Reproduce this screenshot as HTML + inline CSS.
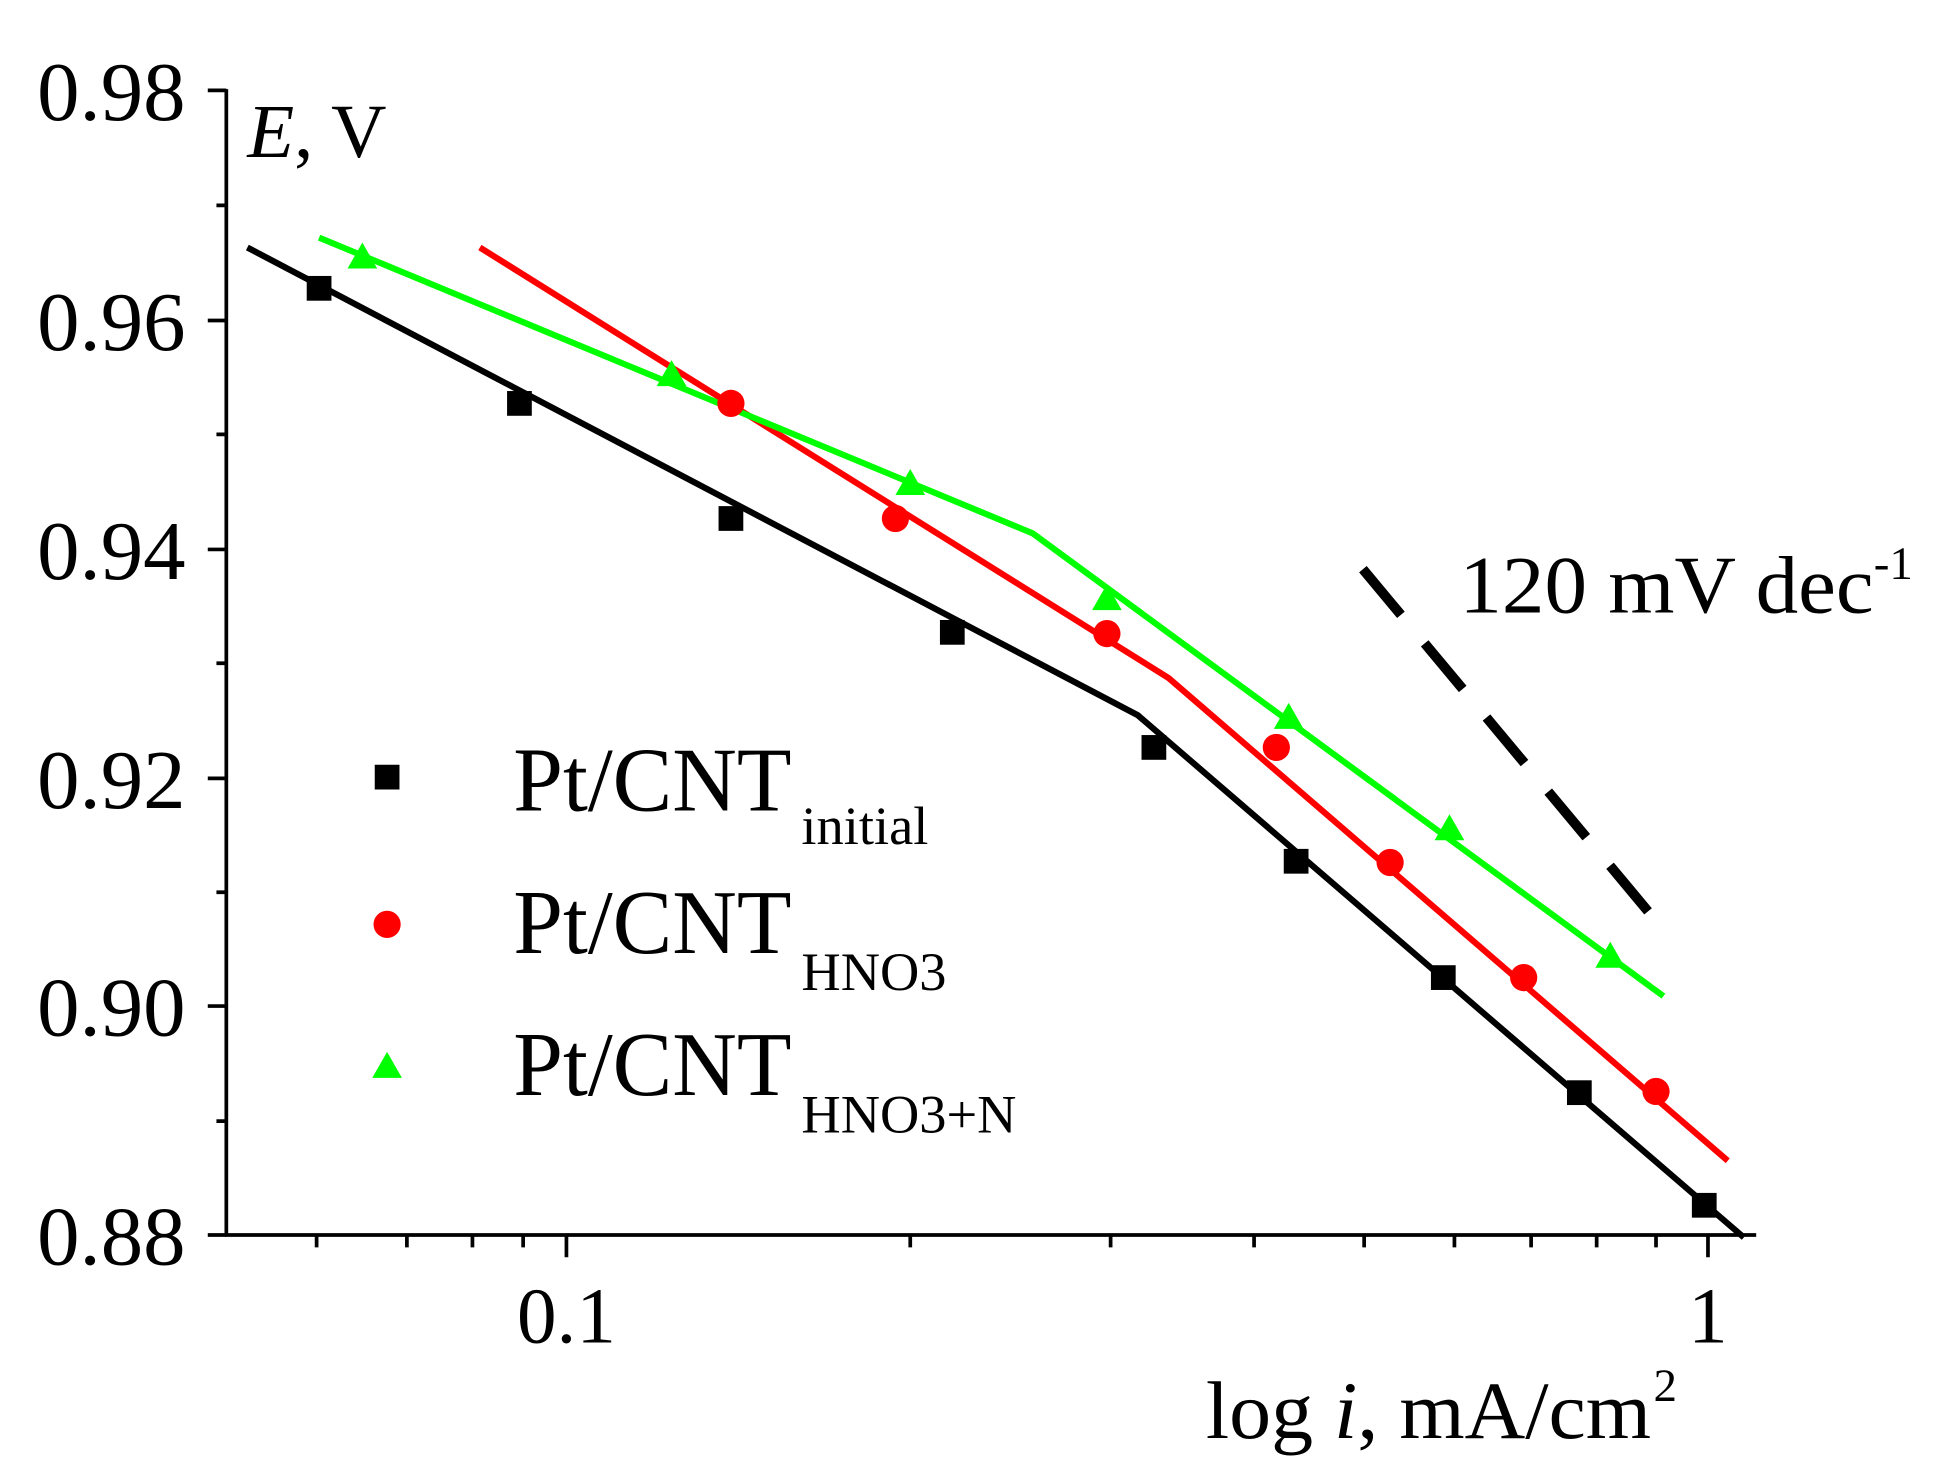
<!DOCTYPE html>
<html><head><style>html,body{margin:0;padding:0;background:#fff}svg{display:block}</style></head><body>
<svg width="1938" height="1480" viewBox="0 0 1567 1196" preserveAspectRatio="none" xmlns="http://www.w3.org/2000/svg" font-family="Liberation Serif, serif">
<g stroke="#000" stroke-width="3" fill="none">
<line x1="183" y1="72" x2="183" y2="999"/>
<line x1="182" y1="998" x2="1420" y2="998"/>
<path d="M168 73H183M168 259H183M168 444H183M168 629H183M168 813H183M168 998H183M175 166H183M175 351H183M175 536H183M175 721H183M175 906H183"/>
<path d="M458 998V1016M1381 998V1016"/>
<path d="M256 998V1008M329 998V1008M382 998V1008M423 998V1008M736 998V1008M898 998V1008M1014 998V1008M1103 998V1008M1176 998V1008M1238 998V1008M1291 998V1008M1339 998V1008"/>
</g>
<g font-size="68" fill="#000">
<text x="30" y="97" textLength="120" lengthAdjust="spacingAndGlyphs">0.98</text><text x="30" y="283" textLength="120" lengthAdjust="spacingAndGlyphs">0.96</text><text x="30" y="468" textLength="120" lengthAdjust="spacingAndGlyphs">0.94</text><text x="30" y="653" textLength="120" lengthAdjust="spacingAndGlyphs">0.92</text><text x="30" y="837" textLength="120" lengthAdjust="spacingAndGlyphs">0.90</text><text x="30" y="1022" textLength="120" lengthAdjust="spacingAndGlyphs">0.88</text>
</g>
<g font-size="64" text-anchor="middle"><text x="458" y="1085">0.1</text><text x="1381" y="1085">1</text></g>
<text x="200" y="127" font-size="62"><tspan font-style="italic">E</tspan>, V</text>
<text x="975" y="1162" font-size="66" textLength="360" lengthAdjust="spacingAndGlyphs">log <tspan font-style="italic">i</tspan>, mA/cm</text>
<text x="1337" y="1132" font-size="38">2</text>
<text x="1180" y="495" font-size="66" textLength="335" lengthAdjust="spacingAndGlyphs">120 mV dec</text>
<text x="1515" y="468" font-size="38">-1</text>
<line x1="1102" y1="460" x2="1333" y2="737" stroke="#000" stroke-width="8" stroke-dasharray="48,30"/>
<polyline points="200,200 920,578 1410,1000" fill="none" stroke="#000" stroke-width="5"/>
<polyline points="388,200 945,548 1397,938" fill="none" stroke="#f00" stroke-width="5"/>
<polyline points="258,192 835,431 1345,805" fill="none" stroke="#0f0" stroke-width="5"/>
<g fill="#000">
<rect x="248" y="223" width="20" height="20"/><rect x="410" y="316" width="20" height="20"/><rect x="581" y="409" width="20" height="20"/><rect x="760" y="501" width="20" height="20"/><rect x="923" y="594" width="20" height="20"/><rect x="1038" y="686" width="20" height="20"/><rect x="1157" y="780" width="20" height="20"/><rect x="1267" y="873" width="20" height="20"/><rect x="1368" y="964" width="20" height="20"/>
<rect x="303" y="618" width="20" height="20"/>
</g>
<g fill="#f00">
<circle cx="591" cy="326" r="11"/><circle cx="724" cy="419" r="11"/><circle cx="895" cy="512" r="11"/><circle cx="1032" cy="604" r="11"/><circle cx="1124" cy="697" r="11"/><circle cx="1232" cy="790" r="11"/><circle cx="1339" cy="882" r="11"/>
<circle cx="313" cy="747" r="11"/>
</g>
<g fill="#0f0">
<path d="M293 196l12 21h-24z M543 291l12 21h-24z M736 379l12 21h-24z M895 472l12 21h-24z M1042 568l12 21h-24z M1172 658l12 21h-24z M1302 761l12 21h-24z M313 850l12 21h-24z"/>
</g>
<g font-size="74">
<text x="415" y="655"><tspan textLength="225" lengthAdjust="spacingAndGlyphs">Pt/CNT</tspan><tspan font-size="44" x="648" y="682">initial</tspan></text>
<text x="415" y="770"><tspan textLength="225" lengthAdjust="spacingAndGlyphs">Pt/CNT</tspan><tspan font-size="44" x="648" y="800">HNO3</tspan></text>
<text x="415" y="885"><tspan textLength="225" lengthAdjust="spacingAndGlyphs">Pt/CNT</tspan><tspan font-size="44" x="648" y="915">HNO3+N</tspan></text>
</g>
</svg>
</body></html>
